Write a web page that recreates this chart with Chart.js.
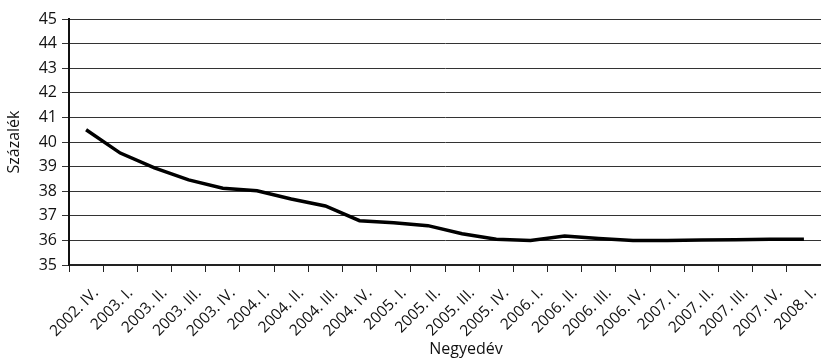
<!DOCTYPE html>
<html>
<head>
<meta charset="utf-8">
<script src="https://cdn.jsdelivr.net/npm/chart.js@4"></script>
<style>
  html, body { margin: 0; padding: 0; background: #fff; }
  #wrap { width: 821px; height: 359px; }
</style>
</head>
<body>
<div id="wrap"><canvas id="c" width="821" height="359"></canvas></div>
<script>
// Quarters (negyedév)
const quarters = [
  '2002. IV.', '2003. I.', '2003. II.', '2003. III.', '2003. IV.',
  '2004. I.', '2004. II.', '2004. III.', '2004. IV.',
  '2005. I.', '2005. II.', '2005. III.', '2005. IV.',
  '2006. I.', '2006. II.', '2006. III.', '2006. IV.',
  '2007. I.', '2007. II.', '2007. III.', '2007. IV.',
  '2008. I.'
];
// Share in percent (százalék)
const percent = [
  40.5, 39.55, 38.95, 38.46, 38.12,
  38.02, 37.68, 37.4, 36.8,
  36.72, 36.6, 36.27, 36.05,
  36.0, 36.18, 36.08, 36.0,
  36.0, 36.02, 36.03, 36.05,
  36.05
];
const yMin = 35, yMax = 45, yStep = 1;
const yTitle = 'Százalék';
const xTitle = 'Negyedév';

const FONT = '"Open Sans", "Noto Sans", sans-serif';

// Axis title under the category labels
const xTitlePlugin = {
  id: 'xTitle',
  afterDraw(chart) {
    const ctx = chart.ctx;
    ctx.save();
    ctx.font = '16px ' + FONT;
    ctx.fillStyle = '#111';
    ctx.textAlign = 'center';
    ctx.textBaseline = 'middle';
    ctx.fillText(xTitle, 466, 349);
    ctx.restore();
  }
};

new Chart(document.getElementById('c'), {
  type: 'line',
  data: {
    labels: quarters,
    datasets: [{
      data: percent,
      borderColor: '#000',
      borderWidth: 3.5,
      pointRadius: 0,
      tension: 0,
      fill: false
    }]
  },
  options: {
    responsive: false,
    animation: false,
    layout: { padding: { top: 19, right: 0, bottom: 0, left: 0 } },
    plugins: { legend: { display: false }, tooltip: { enabled: false } },
    scales: {
      x: {
        offset: true,
        grid: {
          offset: true,
          drawOnChartArea: false,
          drawTicks: true,
          tickLength: 7,
          color: '#222',
          lineWidth: 1
        },
        border: { color: '#222', width: 2 },
        ticks: {
          autoSkip: false,
          maxRotation: 45,
          minRotation: 45,
          padding: 12,
          labelOffset: 10,
          color: '#111',
          font: { family: FONT, size: 15.5 }
        },
        afterFit(scale) {
          scale.height = 94;
          scale.paddingLeft = 0;
          scale.paddingRight = 0;
        }
      },
      y: {
        min: yMin,
        max: yMax,
        ticks: {
          stepSize: yStep,
          padding: 5,
          color: '#111',
          font: { family: FONT, size: 16 }
        },
        grid: {
          color: '#333',
          lineWidth: 1,
          drawTicks: true,
          tickLength: 7
        },
        border: { color: '#111', width: 2 },
        title: {
          display: true,
          text: yTitle,
          color: '#111',
          font: { family: FONT, size: 16 },
          padding: { top: 5, bottom: 0 }
        },
        afterFit(scale) { scale.width = 69; }
      }
    }
  },
  plugins: [xTitlePlugin]
});
</script>
</body>
</html>
